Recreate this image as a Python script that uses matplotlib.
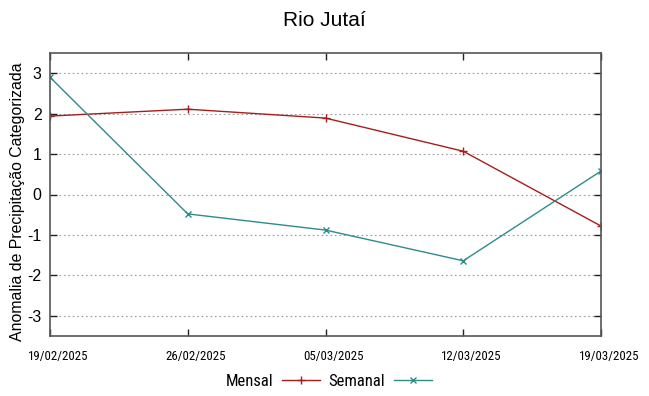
import matplotlib
matplotlib.use("Agg")
import matplotlib.pyplot as plt
from matplotlib.lines import Line2D
from matplotlib.transforms import ScaledTranslation

dates = ["19/02/2025", "26/02/2025", "05/03/2025", "12/03/2025", "19/03/2025"]
mensal = [1.94, 2.11, 1.89, 1.07, -0.78]
semanal = [2.90, -0.48, -0.88, -1.64, 0.58]
yticks = [-3, -2, -1, 0, 1, 2, 3]

c_mensal = "#a81c1c"
c_semanal = "#2e8b8b"
narrow = ['Roboto Condensed', 'Liberation Sans', 'DejaVu Sans']

plt.rcParams['font.family'] = ['Liberation Sans', 'DejaVu Sans']
fig = plt.figure(figsize=(6.49, 3.96), dpi=100)
ax = fig.add_axes([50/649, 1-336/396, 551/649, 283/396])

x = list(range(len(dates)))
ax.plot(x, mensal, color=c_mensal, lw=1, marker='+', ms=6, mew=1)
ax.plot(x, semanal, color=c_semanal, lw=1, marker='x', ms=5, mew=1)

ax.set_xlim(0, len(dates)-1)
ax.set_ylim(-3.5, 3.5)
ax.set_yticks(yticks)
ax.set_yticklabels([str(v) for v in yticks], fontsize=11.5)
ax.set_xticks(x)
ax.set_xticklabels(dates, fontsize=9.3, family=narrow)
ax.tick_params(axis='both', direction='in', length=5, width=1, color='#222222',
               top=True, right=True)
ax.tick_params(axis='x', pad=10)
ax.tick_params(axis='y', pad=6)
off = ScaledTranslation(8/100, 0, fig.dpi_scale_trans)
for lab in ax.get_xticklabels():
    lab.set_transform(lab.get_transform() + off)
ax.yaxis.grid(True, linestyle=(0, (1.5, 2.5)), color='#999999', lw=0.8)
for s in ax.spines.values():
    s.set_color('#555555')
    s.set_linewidth(1.2)

ax.set_ylabel("Anomalia de Precipitação Categorizada", fontsize=11.4)
ax.yaxis.set_label_coords(-0.045, 0.475)
fig.text(0.5, 1-20/396, "Rio Jutaí", ha='center', va='center', fontsize=15)

handles = [Line2D([], [], color=c_mensal, lw=1, marker='+', ms=6),
           Line2D([], [], color=c_semanal, lw=1, marker='x', ms=5)]
fig.legend(handles, ["Mensal", "Semanal"], loc='center', bbox_to_anchor=(329/649, 1-381/396),
           ncol=2, frameon=False, markerfirst=False, handlelength=2.3,
           columnspacing=0.5, handletextpad=0.5,
           prop={'family': narrow, 'size': 12})

fig.savefig("out.png", dpi=100)
